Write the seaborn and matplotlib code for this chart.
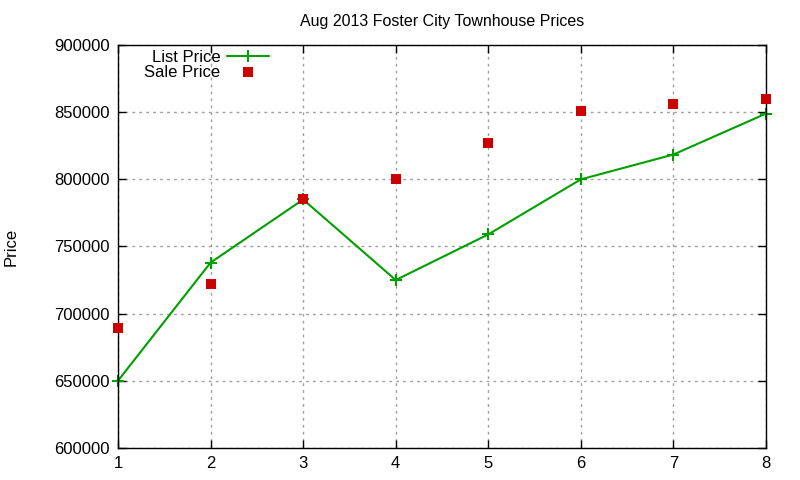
import pandas as pd
import seaborn as sns
import matplotlib
matplotlib.use('agg')
import matplotlib.pyplot as plt

# data
months = [1, 2, 3, 4, 5, 6, 7, 8]
list_price = [650000, 738000, 785000, 725000, 759000, 800000, 818500, 849000]
sale_price = [689000, 722000, 785000, 800000, 827000, 851000, 856000, 860000]

df = pd.DataFrame({'Month': months, 'List Price': list_price, 'Sale Price': sale_price})

sns.set_theme(style="ticks")
plt.rcParams['font.family'] = ['Liberation Sans', 'DejaVu Sans']
plt.rcParams['text.color'] = 'black'

fig, ax = plt.subplots(figsize=(8, 4.8), dpi=100)
fig.subplots_adjust(left=0.1475, right=0.9575, top=0.906, bottom=0.067)

sns.lineplot(data=df, x='Month', y='List Price', ax=ax, color='#00a000',
             linewidth=1.5, marker='+', markersize=8, markeredgewidth=1.5,
             markeredgecolor='#00a000', label='List Price', clip_on=False)
sns.scatterplot(data=df, x='Month', y='Sale Price', ax=ax, color='#cc0000',
                marker='s', s=42, linewidth=0, label='Sale Price', zorder=3,
                clip_on=False)

ax.set_xlim(1, 8)
ax.set_ylim(600000, 900000)
ax.set_xticks(months)
ax.set_yticks(range(600000, 900001, 50000))
ax.ticklabel_format(axis='y', style='plain', useOffset=False)

ax.grid(True, color='#a0a0a0', linestyle=(0, (2, 3)), linewidth=1)
for sp in ax.spines.values():
    sp.set_visible(True)
    sp.set_color('black')
    sp.set_linewidth(1)
ax.tick_params(direction='in', length=6, width=1, top=True, right=True,
               labelsize=12, colors='black', pad=6)

ax.set_title('Aug 2013 Foster City Townhouse Prices', fontsize=11.5,
             pad=14, color='black')
ax.set_xlabel('')
ax.set_ylabel('Price', fontsize=12, color='black')
ax.yaxis.set_label_coords(-0.153, 0.5)

leg = ax.legend(loc='upper left', frameon=False, markerfirst=False,
                fontsize=12, handlelength=2.5, handletextpad=0.4,
                borderaxespad=0.0, labelspacing=0.0,
                bbox_to_anchor=(0.03, 1.005))
# right-align legend text like gnuplot
for col in leg._legend_handle_box.get_children():
    col.align = 'right'

fig.savefig('out.png', dpi=100)
